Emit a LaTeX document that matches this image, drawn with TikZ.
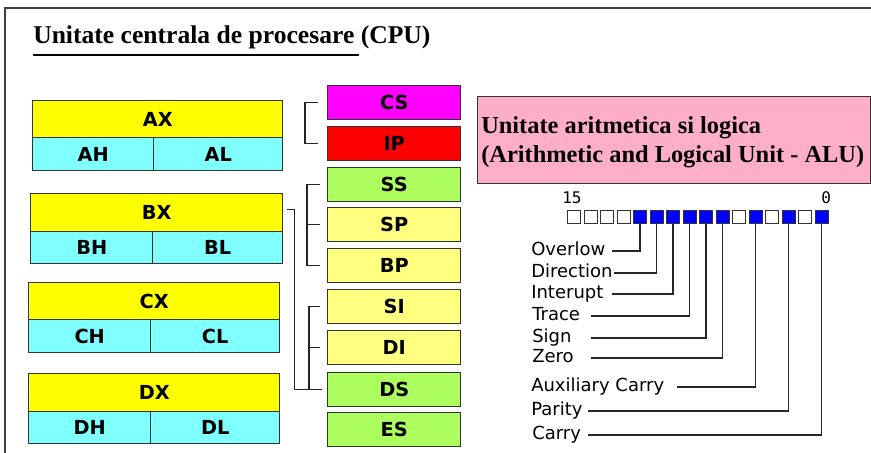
\documentclass[tikz,border=0pt]{standalone}
\usepackage{fontspec}
\setmainfont{Liberation Serif}
\newfontfamily\dv{DejaVu Sans}
\newfontfamily\dvm{DejaVu Sans Mono}
\usetikzlibrary{calc}
\definecolor{yel}{HTML}{FFFF00}
\definecolor{cya}{HTML}{80FFFF}
\definecolor{mag}{HTML}{FF00FF}
\definecolor{rd}{HTML}{FF0000}
\definecolor{grn}{HTML}{ADFF5F}
\definecolor{lyel}{HTML}{FFFF80}
\definecolor{pnk}{HTML}{FFAEC9}
\definecolor{blu}{HTML}{0000FF}
\definecolor{edge}{HTML}{333333}
\tikzset{
  bw/.style={minimum width=#1*0.75pt},
  bh/.style={minimum height=#1*0.75pt},
  reg/.style={draw=edge, line width=1.1pt, inner sep=0pt, anchor=north west,
              font=\dv\bfseries\fontsize{14.5pt}{16pt}\selectfont},
  seg/.style={reg, bw=133, bh=34},
  bit/.style={draw=edge, line width=0.8pt, inner sep=0pt, anchor=north west,
              minimum size=13*0.75pt},
  conn/.style={draw=black!85, line width=1.1pt},
  flag/.style={anchor=base west, inner sep=0pt,
              font=\dv\fontsize{13.5pt}{16pt}\selectfont},
  ttl/.style={anchor=base west, inner sep=0pt,
              font=\bfseries\fontsize{19.2pt}{22pt}\selectfont},
  alut/.style={anchor=base west, inner sep=0pt,
              font=\bfseries\fontsize{18.3pt}{22pt}\selectfont},
  num/.style={anchor=base west, inner sep=0pt,
              font=\dvm\fontsize{12pt}{14pt}\selectfont},
}
\begin{document}
\begin{tikzpicture}[x=0.75pt, y=-0.75pt]
\useasboundingbox (0,0) rectangle (871,453);
% frame
\draw[draw=black!75, line width=1.6pt] (5,453) -- (5,8) -- (871,8);
% title
\node[ttl] (title) at (33,44) {Unitate centrala de procesare (CPU)};
\draw[line width=1.1pt] ($(title.base west)+(0,11)$) -- ++(326,0);
% general registers
\node[reg, fill=yel, bw=250, bh=37] (ax) at (32,100) {AX};
\node[reg, fill=cya, bw=121, bh=33] (ah) at (32,137) {AH};
\node[reg, fill=cya, bw=129, bh=33] (al) at (153,137) {AL};
\node[reg, fill=yel, bw=252, bh=38] (bx) at (30,193) {BX};
\node[reg, fill=cya, bw=122, bh=32] (bh) at (30,231) {BH};
\node[reg, fill=cya, bw=130, bh=32] (bl) at (152,231) {BL};
\node[reg, fill=yel, bw=251, bh=37] (cx) at (28,282) {CX};
\node[reg, fill=cya, bw=122, bh=33] (ch) at (28,319) {CH};
\node[reg, fill=cya, bw=129, bh=33] (cl) at (150,319) {CL};
\node[reg, fill=yel, bw=251, bh=38] (dx) at (28,373) {DX};
\node[reg, fill=cya, bw=122, bh=32] (dh) at (28,411) {DH};
\node[reg, fill=cya, bw=129, bh=32] (dl) at (150,411) {DL};
% segment / pointer registers
\node[seg, fill=mag]  (cs) at (327,85)  {CS};
\node[seg, fill=rd]   (ip) at (327,126) {IP};
\node[seg, fill=grn]  (ss) at (327,167) {SS};
\node[seg, fill=lyel] (sp) at (327,207) {SP};
\node[seg, fill=lyel] (bp) at (327,248) {BP};
\node[seg, fill=lyel] (si) at (327,289) {SI};
\node[seg, fill=lyel] (di) at (327,330) {DI};
\node[seg, fill=grn]  (ds) at (327,372) {DS};
\node[seg, fill=grn]  (es) at (327,412) {ES};
% brackets
\draw[conn] ($(cs.west)+(-9,0)$) -- ++(-13,0) |- ($(ip.west)+(-9,0)$);
\draw[conn] ($(ss.west)+(-7,0)$) -| ($(bp.west)+(-20,0)$) -- ($(bp.west)+(-7,0)$);
\draw[conn] ($(sp.west)+(-20,0)$) -- ($(sp.west)+(-7,0)$);
\draw[conn] ($(bx.east)+(4,-3)$) -- ++(7,0) |- ($(ds.west)+(-5,0)$);
\draw[conn] ($(si.west)+(-7,0)$) -| ($(ds.west)+(-18,0)$);
\draw[conn] ($(di.west)+(-18,0)$) -- ($(di.west)+(-7,0)$);
% ALU
\node[draw=edge, line width=1.1pt, fill=pnk, anchor=north west, inner sep=0pt,
      bw=393, bh=87] (alu) at (477,96) {};
\node[alut] (alu1) at (481,133) {Unitate aritmetica si logica};
\node[alut] (alu2) at (481,162) {(Arithmetic and Logical Unit - ALU)};
% flag bits
\foreach \i/\c in {0/white,1/white,2/white,3/white,4/blu,5/blu,6/blu,7/blu,
                   8/blu,9/blu,10/white,11/blu,12/white,13/blu,14/white,15/blu}
  \node[bit, fill=\c] (q\i) at (567+16.5*\i,210) {};
\node[num] (n15) at (562,203) {15};
\node[num] (n0) at (821,203) {0};
% flag labels
\node[flag] (fov) at (531,255.5) {Overlow};
\node[flag] (fdi) at (531,277.5) {Direction};
\node[flag] (fin) at (531,298.5) {Interupt};
\node[flag] (ftr) at (532,320.5) {Trace};
\node[flag] (fsi) at (532,342.5) {Sign};
\node[flag] (fze) at (532,362.5) {Zero};
\node[flag] (fac) at (531,391.5) {Auxiliary Carry};
\node[flag] (fpa) at (531,415.5) {Parity};
\node[flag] (fca) at (532,439.5) {Carry};
\coordinate (lov) at (612,251);
\coordinate (ldi) at (614,273);
\coordinate (lin) at (612,294);
\coordinate (ltr) at (591,316);
\coordinate (lsi) at (591,338);
\coordinate (lze) at (591,358);
\coordinate (lac) at (677,387);
\coordinate (lpa) at (588,411);
\coordinate (lca) at (588,435);
\draw[conn] (lov) -| (q4.south);
\draw[conn] (ldi) -| (q5.south);
\draw[conn] (lin) -| (q6.south);
\draw[conn] (ltr) -| (q7.south);
\draw[conn] (lsi) -| (q8.south);
\draw[conn] (lze) -| (q9.south);
\draw[conn] (lac) -| (q11.south);
\draw[conn] (lpa) -| (q13.south);
\draw[conn] (lca) -| (q15.south);
\end{tikzpicture}
\end{document}
